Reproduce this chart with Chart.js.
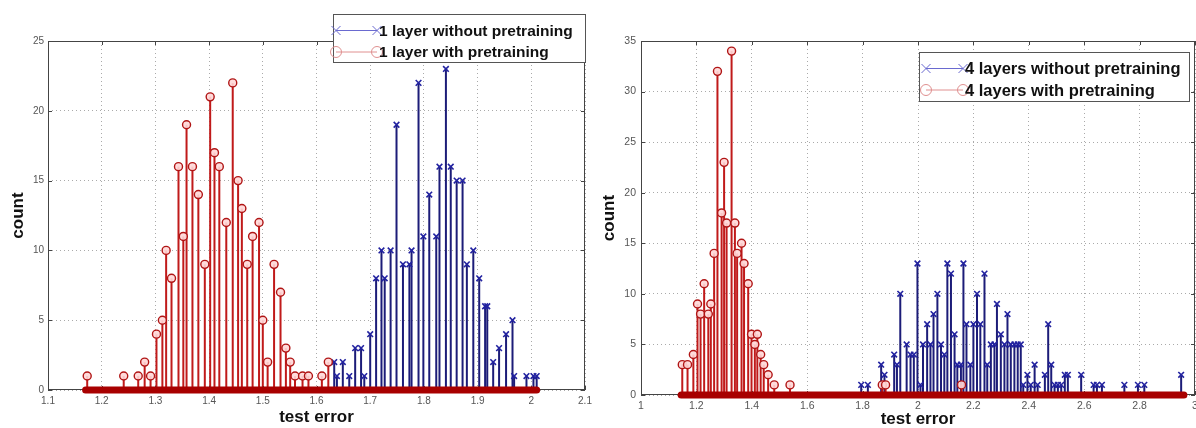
<!DOCTYPE html>
<html>
<head>
<meta charset="utf-8">
<script src="https://cdn.jsdelivr.net/npm/chart.js@4.4.1/dist/chart.umd.min.js"></script>
<style>
  body { margin: 0; width: 1196px; height: 428px; overflow: hidden; background: #fff; position: relative; }
  .box { position: absolute; top: 0; height: 428px; }
</style>
</head>
<body>
<div class="box" style="left:0;width:600px"><canvas id="left_chart" width="600" height="428"></canvas></div>
<div class="box" style="left:600px;width:620px"><canvas id="right_chart" width="620" height="428"></canvas></div>
<script>
// ---- left panel: 1 layer ----
const leftRedX = [1.173, 1.241, 1.268, 1.280, 1.291, 1.302, 1.313, 1.320, 1.330, 1.343, 1.352, 1.358, 1.369, 1.380,
  1.392, 1.402, 1.410, 1.419, 1.432, 1.444, 1.454, 1.461, 1.471, 1.481, 1.493, 1.500, 1.509, 1.521, 1.533, 1.543,
  1.551, 1.560, 1.574, 1.585, 1.610, 1.622];
const leftRedCount = [1, 1, 1, 2, 1, 4, 5, 10, 8, 16, 11, 19, 16, 14,
  9, 21, 17, 16, 12, 22, 15, 13, 9, 11, 12, 5, 2, 9, 7, 3,
  2, 1, 1, 1, 1, 2];
const leftBlueX = [1.633, 1.638, 1.649, 1.661, 1.672, 1.683, 1.689, 1.700, 1.711, 1.721, 1.727, 1.738, 1.749, 1.761,
  1.773, 1.777, 1.790, 1.799, 1.810, 1.823, 1.829, 1.841, 1.850, 1.861, 1.872, 1.880, 1.892, 1.903, 1.914, 1.918,
  1.929, 1.940, 1.953, 1.965, 1.968, 1.991, 2.004, 2.010];
const leftBlueCount = [2, 1, 2, 1, 3, 3, 1, 4, 8, 10, 8, 10, 19, 9,
  9, 10, 22, 11, 14, 11, 16, 23, 16, 15, 15, 9, 10, 8, 6, 6,
  2, 3, 4, 5, 1, 1, 1, 1];
const leftZeroBand = [1.17, 2.01];
const leftXRange = [1.1, 2.1, 0.1];
const leftYRange = [0, 25, 5];
const leftLabels = ['1 layer without pretraining', '1 layer with pretraining'];

// ---- right panel: 4 layers ----
const rightRedX = [1.149, 1.168, 1.189, 1.204, 1.215, 1.228, 1.243, 1.252, 1.264, 1.276, 1.291, 1.300, 1.309, 1.327,
  1.339, 1.347, 1.363, 1.372, 1.387, 1.399, 1.411, 1.420, 1.432, 1.443, 1.459, 1.481, 1.538, 1.871, 1.883, 2.157];
const rightRedCount = [3, 3, 4, 9, 8, 11, 8, 9, 14, 32, 18, 23, 17, 34,
  17, 14, 15, 13, 11, 6, 5, 6, 4, 3, 2, 1, 1, 1, 1, 1];
const rightBlueX = [1.795, 1.819, 1.867, 1.879, 1.914, 1.924, 1.936, 1.959, 1.973, 1.985, 1.998, 2.009, 2.018, 2.033,
  2.045, 2.056, 2.070, 2.083, 2.095, 2.106, 2.119, 2.132, 2.142, 2.155, 2.164, 2.175, 2.189, 2.200, 2.213, 2.225,
  2.240, 2.250, 2.263, 2.276, 2.285, 2.299, 2.312, 2.323, 2.335, 2.348, 2.360, 2.371, 2.380, 2.395, 2.407, 2.421,
  2.432, 2.458, 2.470, 2.481, 2.493, 2.505, 2.517, 2.530, 2.541, 2.589, 2.634, 2.646, 2.664, 2.745, 2.794, 2.817, 2.950];
const rightBlueCount = [1, 1, 3, 2, 4, 3, 10, 5, 4, 4, 13, 1, 5, 7,
  5, 8, 10, 5, 4, 13, 12, 6, 3, 3, 13, 7, 3, 7, 10, 7,
  12, 3, 5, 5, 9, 6, 5, 8, 5, 5, 5, 5, 1, 2, 1, 3,
  1, 2, 7, 3, 1, 1, 1, 2, 2, 2, 1, 1, 1, 1, 1, 1, 2];
const rightZeroBand = [1.145, 2.96];
const rightXRange = [1, 3, 0.2];
const rightYRange = [0, 35, 5];
const rightLabels = ['4 layers without pretraining', '4 layers with pretraining'];

const BLUE = '#2222a0', BLUE_STEM = '#1c1c78';
const RED = '#b01515', RED_STEM = '#c01a1a';

// vertical stems from each marker down to zero
const stemPlugin = {
  id: 'stems',
  beforeDatasetsDraw(chart) {
    const ctx = chart.ctx, y0 = chart.scales.y.getPixelForValue(0);
    ctx.save();
    chart.data.datasets.forEach((ds, i) => {
      if (!ds.stemColor) return;
      ctx.strokeStyle = ds.stemColor;
      ctx.lineWidth = 2;
      chart.getDatasetMeta(i).data.forEach(pt => {
        ctx.beginPath(); ctx.moveTo(pt.x, pt.y); ctx.lineTo(pt.x, y0); ctx.stroke();
      });
    });
    ctx.restore();
  }
};

// matlab style box with inward ticks
const framePlugin = {
  id: 'frame',
  beforeDatasetsDraw(chart) {
    const {ctx, chartArea: a, scales: {x, y}} = chart;
    const seg = (x1, y1, x2, y2) => { ctx.beginPath(); ctx.moveTo(x1, y1); ctx.lineTo(x2, y2); ctx.stroke(); };
    ctx.save();
    ctx.strokeStyle = '#444'; ctx.lineWidth = 1;
    ctx.strokeRect(a.left + 0.5, a.top + 0.5, a.right - a.left - 1, a.bottom - a.top - 1);
    x.ticks.forEach(t => {
      const px = Math.round(x.getPixelForValue(t.value)) + 0.5;
      seg(px, a.top, px, a.top + 4); seg(px, a.bottom, px, a.bottom - 4);
    });
    y.ticks.forEach(t => {
      const py = Math.round(y.getPixelForValue(t.value)) + 0.5;
      seg(a.left, py, a.left + 4, py); seg(a.right, py, a.right - 4, py);
    });
    ctx.restore();
  }
};

// boxed legend placed like the original figure
const boxLegend = {
  id: 'boxLegend',
  afterDraw(chart, args, o) {
    const ctx = chart.ctx;
    const items = chart.data.datasets.filter(d => d.stemColor);
    ctx.save();
    ctx.fillStyle = '#fff';
    ctx.fillRect(o.left, o.top, o.width, o.height);
    ctx.strokeStyle = '#555'; ctx.lineWidth = 1;
    ctx.strokeRect(o.left + 0.5, o.top + 0.5, o.width, o.height);
    items.forEach((d, k) => {
      const yy = o.top + o.rows[k];
      ctx.strokeStyle = d.sampleColor; ctx.lineWidth = 1;
      ctx.beginPath(); ctx.moveTo(o.line[0], yy); ctx.lineTo(o.line[1], yy); ctx.stroke();
      [o.line[0], o.line[1]].forEach(px => {
        ctx.beginPath();
        if (d.pointStyle === 'circle') {
          ctx.arc(px, yy, 5.5, 0, Math.PI * 2);
        } else {
          ctx.moveTo(px - 4.5, yy - 4.5); ctx.lineTo(px + 4.5, yy + 4.5);
          ctx.moveTo(px - 4.5, yy + 4.5); ctx.lineTo(px + 4.5, yy - 4.5);
        }
        ctx.stroke();
      });
      ctx.fillStyle = '#111';
      ctx.font = 'bold ' + o.fontSize + 'px "Liberation Sans", Arial, sans-serif';
      ctx.textBaseline = 'middle';
      ctx.fillText(d.label, o.textX, yy + 1);
    });
    ctx.restore();
  }
};

function pts(xs, ys) { return xs.map((x, i) => ({x: x, y: ys[i]})); }
function fmt(v) { return Number(v.toFixed(2)).toString(); }

function makeStemChart(id, p) {
  const ctx = document.getElementById(id).getContext('2d');
  const tickFont = {family: '"Liberation Sans", Arial, sans-serif', size: p.tickSize};
  const titleFont = {family: '"Liberation Sans", Arial, sans-serif', size: 17, weight: 'bold', lineHeight: 1};
  return new Chart(ctx, {
    type: 'scatter',
    data: {
      datasets: [
        { label: p.labels[0], data: pts(p.blueX, p.blueY), pointStyle: 'crossRot', pointRadius: 4,
          pointBorderColor: BLUE, pointBorderWidth: 1.6, stemColor: BLUE_STEM, sampleColor: '#6a6ad0', order: 2 },
        { label: p.labels[1], data: pts(p.redX, p.redY), pointStyle: 'circle', pointRadius: 4,
          pointBackgroundColor: 'rgba(255,215,215,0.9)', pointBorderColor: RED, pointBorderWidth: 1.4,
          stemColor: RED_STEM, sampleColor: '#e09090', order: 1 },
        { type: 'line', label: '', data: [{x: p.band[0], y: 0}, {x: p.band[1], y: 0}], clip: false,
          borderColor: '#a80000', borderWidth: 7, pointRadius: 0, borderCapStyle: 'round', order: 0 }
      ]
    },
    options: {
      responsive: false, animation: false, events: [],
      layout: { padding: {top: 41, right: p.padRight, left: 0, bottom: 0} },
      plugins: {
        legend: { display: false }, tooltip: { enabled: false },
        boxLegend: p.legend
      },
      scales: {
        x: {
          type: 'linear', min: p.xRange[0], max: p.xRange[1],
          ticks: { stepSize: p.xRange[2], font: tickFont, color: '#555', padding: p.xTickPad, maxRotation: 0,
                   autoSkip: false, callback: fmt },
          grid: { color: '#aaa', drawTicks: false },
          border: { display: false, dash: [1, 3] },
          title: { display: true, text: 'test error', font: titleFont, color: '#111', padding: {top: 0, bottom: p.xTitlePad} },
          afterFit: s => { s.height = p.xAxisH; }
        },
        y: {
          min: p.yRange[0], max: p.yRange[1],
          ticks: { stepSize: p.yRange[2], font: tickFont, color: '#555', padding: p.yTickPad },
          grid: { color: '#aaa', drawTicks: false },
          border: { display: false, dash: [1, 3] },
          title: { display: true, text: 'count', font: titleFont, color: '#111', padding: {top: p.yTitlePad, bottom: 0} },
          afterFit: s => { s.width = p.yAxisW; }
        }
      }
    },
    plugins: [stemPlugin, framePlugin, boxLegend]
  });
}

makeStemChart('left_chart', {
  labels: leftLabels, blueX: leftBlueX, blueY: leftBlueCount, redX: leftRedX, redY: leftRedCount,
  band: leftZeroBand, xRange: leftXRange, yRange: leftYRange,
  padRight: 15, yAxisW: 48, xAxisH: 38, tickSize: 10, xTickPad: 5, yTickPad: 4, xTitlePad: 2.5, yTitlePad: 9.5,
  legend: { left: 333, top: 14, width: 252, height: 48, rows: [16.5, 38], line: [336, 377], textX: 379, fontSize: 15.5 }
});

makeStemChart('right_chart', {
  labels: rightLabels, blueX: rightBlueX, blueY: rightBlueCount, redX: rightRedX, redY: rightRedCount,
  band: rightZeroBand, xRange: rightXRange, yRange: rightYRange,
  padRight: 25, yAxisW: 41, xAxisH: 33, tickSize: 10.5, xTickPad: 5, yTickPad: 5, xTitlePad: 0, yTitlePad: 0.5,
  legend: { left: 319, top: 52, width: 270, height: 49, rows: [16.5, 38], line: [326, 363], textX: 365, fontSize: 16.5 }
});
</script>
</body>
</html>
